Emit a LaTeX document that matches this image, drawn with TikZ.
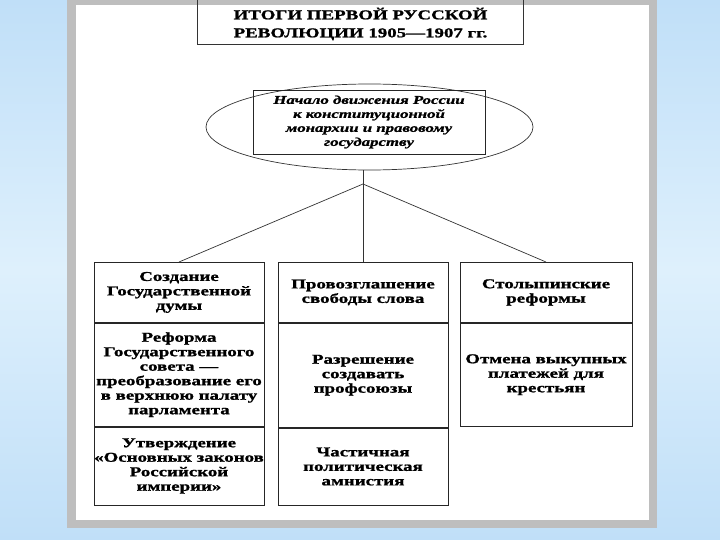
\documentclass[tikz,border=0pt]{standalone}
\usepackage{fontspec}
\setmainfont{Liberation Serif}[FakeStretch=1.4, BoldFeatures={FakeBold=1.2}, BoldItalicFeatures={FakeBold=1.2}]
\usetikzlibrary{positioning,shapes.geometric}

\definecolor{fonblue}{RGB}{192,223,248}
\definecolor{fonlight}{RGB}{222,240,252}
\definecolor{ramka}{RGB}{190,190,190}

\tikzset{
	cell/.style={draw=black!85, line width=0.8pt, minimum width=170pt, inner xsep=0pt, align=center, anchor=north, font=\fontsize{13.5}{14.5}\selectfont\bfseries},
	link/.style={draw=black!80, line width=0.7pt}
}

\begin{document}
\begin{tikzpicture}[x=1pt,y=-1pt]  %Fon i ramka
	\useasboundingbox (0,0) rectangle (720,540);
	\shade[top color=fonblue, bottom color=fonblue, middle color=fonlight] (0,0) rectangle (720,540);
	\fill[ramka] (67,-10) rectangle (657,528);
	\fill[white] (76,5) rectangle (649,520);

		%Zagolovok
	\node[minimum width=325pt, minimum height=40pt, align=center, font=\fontsize{13.5}{18}\selectfont\bfseries] (itogi) at (360.5,24) {ИТОГИ ПЕРВОЙ РУССКОЙ\\РЕВОЛЮЦИИ 1905—1907 гг.};
	\draw[link] ([yshift=8pt]itogi.north west) -- (itogi.south west) -- (itogi.south east) -- ([yshift=8pt]itogi.north east);

		%Oval
	\node[draw=black!80, line width=0.7pt, ellipse, minimum width=327pt, minimum height=86pt] (oval) at (369.5,127) {};
	\node[draw=black!85, line width=0.8pt, minimum width=232pt, minimum height=64pt, inner xsep=0pt, align=center, font=\fontsize{12}{14}\selectfont\bfseries\itshape] (nachalo) at (369,122) {Начало движения России\\к конституционной\\монархии и правовому\\государству};

		%Stolbcy
	\node[cell, minimum height=60pt] (duma) at (179,262) {Создание\\Государственной\\думы};
	\node[cell, minimum height=103pt, below=0pt of duma] (sovet) {Реформа\\Государственного\\совета —\\преобразование его\\в верхнюю палату\\парламента};
	\node[cell, minimum height=78pt, below=0pt of sovet] (zakony) {Утверждение\\«Основных законов\\Российской\\империи»};

	\node[cell, minimum height=60pt] (svoboda) at (363,262) {Провозглашение\\свободы слова};
	\node[cell, minimum height=104pt, below=0pt of svoboda] (profsoyuzy) {Разрешение\\создавать\\профсоюзы};
	\node[cell, minimum height=77pt, below=0pt of profsoyuzy] (amnistiya) {Частичная\\политическая\\амнистия};

	\node[cell, minimum height=60pt, minimum width=172pt] (stolypin) at (546,262) {Столыпинские\\реформы};
	\node[cell, minimum height=103pt, minimum width=172pt, below=0pt of stolypin] (platezhi) {Отмена выкупных\\платежей для\\крестьян};

		%Linii
	\coordinate (razvilka) at (363,184);
	\draw[link] (oval.south -| razvilka) -- (svoboda.north);
	\draw[link] (duma.north) -- (razvilka) -- (stolypin.north);
\end{tikzpicture}
\end{document}
